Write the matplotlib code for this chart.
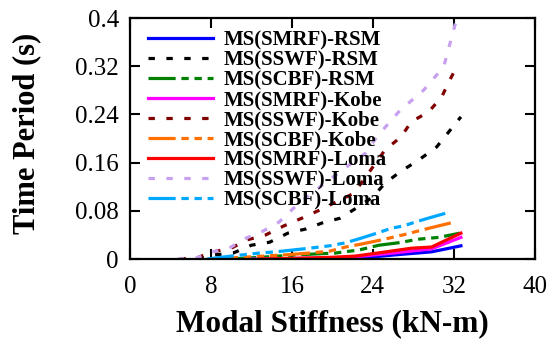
import matplotlib
matplotlib.use("Agg")
import matplotlib.pyplot as plt

# ---- data ----
smrf_rsm_x = [13, 16, 20, 23, 26.2, 29.8, 32.7]
smrf_rsm_y = [0, 0.001, 0.001, 0.002, 0.007, 0.012, 0.022]
sswf_rsm_x = [6.7, 8.4, 10.2, 12, 13.8, 15.6, 17.4, 19, 20.8, 22.4, 24, 25.2, 26.8, 28.5, 30.3, 31.4, 32.7]
sswf_rsm_y = [0, 0.007, 0.01, 0.023, 0.028, 0.043, 0.05, 0.06, 0.068, 0.085, 0.103, 0.126, 0.146, 0.164, 0.186, 0.209, 0.236]
scbf_rsm_x = [9.8, 13, 16.4, 20.3, 22.6, 24.6, 26.5, 28.5, 30.5, 32.6]
scbf_rsm_y = [0, 0.003, 0.007, 0.01, 0.015, 0.023, 0.027, 0.033, 0.036, 0.043]
smrf_kobe_x = [12, 16, 20, 23, 26, 29.8, 32.7]
smrf_kobe_y = [0, 0.001, 0.002, 0.005, 0.01, 0.017, 0.036]
sswf_kobe_x = [4.9, 6.6, 8.2, 10, 11.6, 13.4, 15.2, 17, 18.7, 20.4, 22.1, 23.2, 25.2, 26.8, 27.8, 29.5, 30.8, 31.6, 32.4]
sswf_kobe_y = [0, 0.002, 0.012, 0.018, 0.032, 0.04, 0.055, 0.068, 0.081, 0.095, 0.109, 0.134, 0.181, 0.203, 0.228, 0.244, 0.269, 0.297, 0.323]
scbf_kobe_x = [8, 11.1, 15.4, 17.7, 19.7, 21.3, 22.9, 24.9, 27.2, 29.5, 31.7]
scbf_kobe_y = [0, 0.003, 0.007, 0.01, 0.013, 0.02, 0.025, 0.032, 0.041, 0.051, 0.06]
smrf_loma_x = [12.8, 16, 20, 22.3, 25.3, 27.8, 29.8, 32.7]
smrf_loma_y = [0, 0.001, 0.003, 0.005, 0.012, 0.018, 0.02, 0.043]
sswf_loma_x = [4.7, 6.6, 8.2, 9.8, 11.5, 13.1, 14.7, 16.2, 18, 20.3, 21.9, 23.3, 24.4, 26.7, 29, 31, 32.3]
sswf_loma_y = [0, 0.002, 0.012, 0.018, 0.035, 0.046, 0.061, 0.085, 0.11, 0.139, 0.159, 0.176, 0.203, 0.247, 0.28, 0.319, 0.40]
scbf_loma_x = [7.6, 10, 12.8, 14.4, 17.7, 19.7, 21.3, 22.9, 24.4, 25.8, 27, 28.5, 29.5, 31.6]
scbf_loma_y = [0, 0.005, 0.01, 0.012, 0.018, 0.022, 0.027, 0.035, 0.043, 0.051, 0.055, 0.063, 0.068, 0.078]

x_ticks = [0, 8, 16, 24, 32, 40]
y_ticks = [0, 0.08, 0.16, 0.24, 0.32, 0.4]
y_ticklabels = ["0", "0.08", "0.16", "0.24", "0.32", "0.4"]

solid = "-"
dotted = (0, (2.0, 3.6))
dashdot = (0, (8.5, 1.8, 2.3, 1.8, 2.3, 1.8, 2.3, 1.8))

series = [
    ("MS(SMRF)-RSM", smrf_rsm_x, smrf_rsm_y, "#0000ff", solid),
    ("MS(SSWF)-RSM", sswf_rsm_x, sswf_rsm_y, "#000000", dotted),
    ("MS(SCBF)-RSM", scbf_rsm_x, scbf_rsm_y, "#008000", dashdot),
    ("MS(SMRF)-Kobe", smrf_kobe_x, smrf_kobe_y, "#ff00ff", solid),
    ("MS(SSWF)-Kobe", sswf_kobe_x, sswf_kobe_y, "#800000", dotted),
    ("MS(SCBF)-Kobe", scbf_kobe_x, scbf_kobe_y, "#ff7000", dashdot),
    ("MS(SMRF)-Loma", smrf_loma_x, smrf_loma_y, "#ff0000", solid),
    ("MS(SSWF)-Loma", sswf_loma_x, sswf_loma_y, "#c8a0f0", dotted),
    ("MS(SCBF)-Loma", scbf_loma_x, scbf_loma_y, "#00a8ff", dashdot),
]

plt.rcParams["font.family"] = ["Liberation Serif", "DejaVu Serif"]

fig = plt.figure(figsize=(5.6, 3.4), dpi=100)
ax = fig.add_axes([0.232, 0.238, 0.723, 0.709])

for label, xs, ys, c, ls in series:
    ax.plot(xs, ys, color=c, linestyle=ls, linewidth=2.3, label=label)

ax.set_xlim(0, 40)
ax.set_ylim(0, 0.4)
ax.set_xticks(x_ticks)
ax.set_yticks(y_ticks)
ax.set_yticklabels(y_ticklabels)
ax.tick_params(direction="in", length=7, width=1.5, top=True, right=True,
               labelsize=18)
ax.tick_params(axis="x", pad=12)
ax.tick_params(axis="y", pad=8)
for s in ax.spines.values():
    s.set_linewidth(1.6)

ax.set_xlabel("Modal Stiffness (kN-m)", fontsize=22.5, fontweight="bold")
ax.xaxis.set_label_coords(0.5, -0.21)
ylab = ax.set_ylabel("Time Period (s)", fontsize=22, fontweight="bold")
ylab.set_verticalalignment("center")
ax.yaxis.set_label_coords(-0.255, 0.52)

leg = ax.legend(loc="upper left", bbox_to_anchor=(0.045, 0.95), frameon=False,
                prop={"weight": "bold", "size": 15},
                handlelength=3.1, handletextpad=0.5, labelspacing=0.0,
                borderaxespad=0.0, borderpad=0.0)

fig.savefig("out.png", dpi=100)
